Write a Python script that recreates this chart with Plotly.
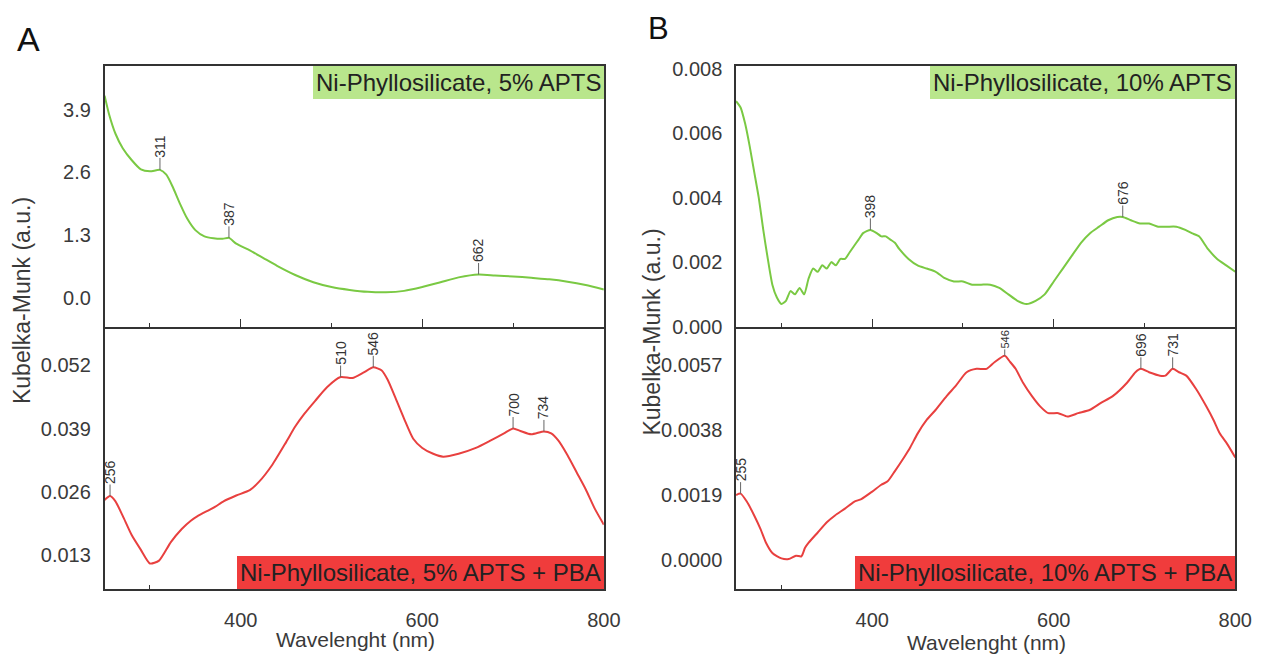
import plotly.graph_objects as go

# ---------------- data ----------------
# Panel A, top: Ni-Phyllosilicate, 5% APTS
a_top_wl = [250, 255, 262, 270, 280, 290, 300, 311, 318, 325, 333, 341, 350, 360, 370,
            380, 387, 395, 410, 425, 440, 460, 480, 500, 520, 540, 560, 580, 600, 620,
            640, 662, 680, 700, 720, 740, 760, 780, 800]
a_top_km = [4.19, 3.80, 3.40, 3.10, 2.85, 2.66, 2.62, 2.65, 2.55, 2.30, 1.95, 1.64, 1.40, 1.27, 1.23,
            1.22, 1.24, 1.12, 0.98, 0.82, 0.66, 0.47, 0.32, 0.22, 0.16, 0.12, 0.11, 0.14, 0.22, 0.32,
            0.42, 0.48, 0.46, 0.44, 0.41, 0.38, 0.33, 0.26, 0.17]

# Panel A, bottom: Ni-Phyllosilicate, 5% APTS + PBA
a_bot_wl = [250, 256, 262, 270, 280, 290, 300, 310, 323, 335, 345, 352, 365, 372, 381, 395,
            410, 420, 435, 450, 460, 470, 482, 495, 510, 523, 535, 546, 555, 562, 570, 580,
            590, 600, 612, 623, 640, 659, 675, 690, 700, 708, 720, 734, 742, 750, 760, 770,
            780, 790, 800]
a_bot_km = [0.0243, 0.0251, 0.0240, 0.0210, 0.0170, 0.0140, 0.0112, 0.0118, 0.0156, 0.0183, 0.0200, 0.0209, 0.0222, 0.0229, 0.0240, 0.0252,
            0.0263, 0.0280, 0.0316, 0.0362, 0.0394, 0.0420, 0.0447, 0.0475, 0.0496, 0.0494, 0.0505, 0.0516, 0.0510, 0.0490, 0.0455, 0.0410,
            0.0369, 0.0350, 0.0338, 0.0332, 0.0338, 0.0350, 0.0365, 0.0380, 0.0390, 0.0385, 0.0378, 0.0384, 0.0380, 0.0365, 0.0335, 0.0300,
            0.0265, 0.0225, 0.0192]

# Panel B, top: Ni-Phyllosilicate, 10% APTS
b_top_wl = [250, 255, 260, 265, 270, 275, 280, 285, 290, 295, 300, 305, 310, 315, 320, 325,
            330, 335, 340, 345, 350, 355, 360, 365, 370, 375, 380, 385, 390, 398, 405, 410,
            415, 420, 425, 430, 440, 450, 460, 470, 480, 490, 500, 510, 520, 530, 540, 550,
            560, 570, 580, 590, 600, 610, 620, 630, 640, 650, 660, 670, 676, 685, 695, 705,
            715, 725, 735, 745, 752, 760, 770, 780, 790, 800]
b_top_km = [0.0070, 0.0068, 0.0063, 0.0056, 0.0048, 0.0040, 0.0030, 0.0021, 0.0013, 0.0009, 0.0007, 0.0008, 0.0011, 0.0010, 0.0012, 0.0010,
            0.0015, 0.0018, 0.0017, 0.0019, 0.0018, 0.0020, 0.0019, 0.0021, 0.0021, 0.0023, 0.0025, 0.0027, 0.0029, 0.0030, 0.0029, 0.0028,
            0.0028, 0.0027, 0.0026, 0.0024, 0.0021, 0.0019, 0.0018, 0.0017, 0.0015, 0.0014, 0.0014, 0.0013, 0.0013, 0.0013, 0.0012, 0.0010,
            0.0008, 0.0007, 0.0008, 0.0010, 0.0014, 0.0018, 0.0022, 0.0026, 0.0029, 0.0031, 0.0033, 0.0034, 0.0034, 0.0033, 0.0032, 0.0032,
            0.0031, 0.0031, 0.0031, 0.0030, 0.0029, 0.0028, 0.0024, 0.0021, 0.0019, 0.0017]

# Panel B, bottom: Ni-Phyllosilicate, 10% APTS + PBA
b_bot_wl = [250, 255, 262, 270, 277, 283, 290, 300, 308, 316, 322, 326, 330, 340, 350, 359,
            370, 380, 388, 400, 410, 417, 425, 435, 442, 450, 460, 470, 482, 492, 504, 515,
            526, 535, 546, 552, 558, 566, 576, 585, 594, 605, 615, 627, 640, 652, 665, 681,
            690, 696, 705, 717, 723, 731, 738, 746, 757, 768, 776, 783, 791, 800]
b_bot_km = [0.00190, 0.00194, 0.00170, 0.00130, 0.00090, 0.00050, 0.00020, 0.00004, 0.00002, 0.00012, 0.00010, 0.00035, 0.00050, 0.00080, 0.00110, 0.00130,
            0.00150, 0.00170, 0.00178, 0.00200, 0.00220, 0.00230, 0.00260, 0.00300, 0.00330, 0.00370, 0.00410, 0.00440, 0.00480, 0.00510, 0.00550, 0.00560,
            0.00560, 0.00580, 0.00598, 0.00580, 0.00560, 0.00520, 0.00480, 0.00450, 0.00430, 0.00430, 0.00420, 0.00430, 0.00440, 0.00460, 0.00480, 0.00520,
            0.00550, 0.00560, 0.00550, 0.00540, 0.00540, 0.00560, 0.00550, 0.00540, 0.00500, 0.00450, 0.00410, 0.00370, 0.00340, 0.00300]

# peak labels (wavelength, value)
a_top_peaks_wl = [311, 387, 662]
a_top_peaks_km = [2.65, 1.24, 0.48]
a_bot_peaks_wl = [256, 510, 546, 700, 734]
a_bot_peaks_km = [0.0251, 0.0496, 0.0516, 0.0390, 0.0384]
b_top_peaks_wl = [398, 676]
b_top_peaks_km = [0.0030, 0.0034]
b_bot_peaks_wl = [255, 546, 696, 731]
b_bot_peaks_km = [0.00194, 0.00598, 0.00560, 0.00560]

# tick labels
x_ticks = [400, 600, 800]
x_minor = [300, 500, 700]
a_top_ticks = [0.0, 1.3, 2.6, 3.9]
a_bot_ticks = [0.013, 0.026, 0.039, 0.052]
b_top_ticks = [0.000, 0.002, 0.004, 0.006, 0.008]
b_bot_ticks = [0.0000, 0.0019, 0.0038, 0.0057]

labels = ["Ni-Phyllosilicate, 5% APTS", "Ni-Phyllosilicate, 5% APTS + PBA",
          "Ni-Phyllosilicate, 10% APTS", "Ni-Phyllosilicate, 10% APTS + PBA"]

# ---------------- styling ----------------
FONT = "Liberation Sans, Arial, sans-serif"
GREEN = "#7ac943"
RED = "#e8403f"
GREEN_BOX = "#b9e68c"
RED_BOX = "#f03c3c"
AXC = "#333333"
TXC = "#3a3a3a"
W, H = 1274, 659

fig = go.Figure()

panels = [
    (a_top_wl, a_top_km, GREEN, "x", "y"),
    (a_bot_wl, a_bot_km, RED, "x2", "y2"),
    (b_top_wl, b_top_km, GREEN, "x3", "y3"),
    (b_bot_wl, b_bot_km, RED, "x4", "y4"),
]
for wl, km, col, xa, ya in panels:
    fig.add_trace(go.Scatter(x=wl, y=km, mode="lines", xaxis=xa, yaxis=ya,
                             line=dict(color=col, width=2, shape="spline", smoothing=0.6),
                             showlegend=False, hoverinfo="skip"))

xA = [106 / W, 612 / W]
xB = [746 / W, 1252 / W]
yTop = [1 - 328 / H, 1 - 60 / H]
yBot = [1 - 598 / H, 1 - 328 / H]


def xaxis(domain, anchor, labels_on, mirror):
    return dict(domain=domain, anchor=anchor, range=[250, 800], tickvals=x_ticks,
                ticks="inside", ticklen=8, tickwidth=1.3, tickcolor=AXC,
                minor=dict(tickvals=x_minor, ticks="inside", ticklen=4, tickwidth=1.3, tickcolor=AXC),
                showticklabels=labels_on, showgrid=False, zeroline=False,
                showline=True, linecolor=AXC, linewidth=1.5, mirror=mirror,
                tickfont=dict(family=FONT, size=20, color=TXC), ticklabelstandoff=12)


def yaxis(domain, anchor, rng, tv, fmt):
    return dict(domain=domain, anchor=anchor, range=rng, tickvals=tv, tickformat=fmt,
                ticks="", showgrid=False, zeroline=False,
                showline=True, linecolor=AXC, linewidth=1.5, mirror=True,
                tickfont=dict(family=FONT, size=20, color=TXC), ticklabelstandoff=8)


fig.update_layout(
    width=W, height=H, margin=dict(l=0, r=0, t=0, b=0),
    paper_bgcolor="white", plot_bgcolor="white",
    xaxis=xaxis(xA, "y", False, True),
    xaxis2=xaxis(xA, "y2", True, False),
    xaxis3=xaxis(xB, "y3", False, True),
    xaxis4=xaxis(xB, "y4", True, False),
    yaxis=yaxis(yTop, "x", [-0.6, 4.8], a_top_ticks, ".1f"),
    yaxis2=yaxis(yBot, "x2", [0.006, 0.060], a_bot_ticks, ".3f"),
    yaxis3=yaxis(yTop, "x3", [0, 0.00808], b_top_ticks, ".3f"),
    yaxis4=yaxis(yBot, "x4", [-0.00085, 0.00684], b_bot_ticks, ".4f"),
)

ann = []
# peak labels
for pw, pk, xa, ya in [(a_top_peaks_wl, a_top_peaks_km, "x", "y"),
                       (a_bot_peaks_wl, a_bot_peaks_km, "x2", "y2"),
                       (b_top_peaks_wl, b_top_peaks_km, "x3", "y3"),
                       (b_bot_peaks_wl, b_bot_peaks_km, "x4", "y4")]:
    for w, k in zip(pw, pk):
        squeezed = (ya == "y4" and w == 546)
        ann.append(dict(x=w, y=k, xref=xa, yref=ya, text=str(w), textangle=-90,
                        showarrow=True, arrowhead=0, arrowwidth=1, arrowcolor="#666666",
                        ax=0, ay=-16 if squeezed else -24,
                        font=dict(family=FONT, size=11 if squeezed else 14, color="#333333"),
                        borderpad=0))

# sample label boxes
for txt, xa, ya, top, bg in [(labels[0], "x", "y", True, GREEN_BOX),
                             (labels[1], "x2", "y2", False, RED_BOX),
                             (labels[2], "x3", "y3", True, GREEN_BOX),
                             (labels[3], "x4", "y4", False, RED_BOX)]:
    ann.append(dict(x=1, y=1 if top else 0, xref=xa + " domain", yref=ya + " domain",
                    xanchor="right", yanchor="top" if top else "bottom",
                    text=txt, showarrow=False, bgcolor=bg, borderpad=3, borderwidth=0,
                    font=dict(family=FONT, size=24, color="#222222")))

# y titles
for xp, yp in [(23 / W, 1 - 301 / H), (661 / W, 1 - 334 / H)]:
    ann.append(dict(x=xp, y=yp, xref="paper", yref="paper", text="Kubelka-Munk (a.u.)",
                    textangle=-90, showarrow=False, xanchor="center", yanchor="middle",
                    font=dict(family=FONT, size=23, color=TXC)))
# x titles
for xp, yp in [(360 / W, 1 - 650 / H), (1000 / W, 1 - 653 / H)]:
    ann.append(dict(x=xp, y=yp, xref="paper", yref="paper", text="Wavelenght (nm)",
                    showarrow=False, xanchor="center", yanchor="middle",
                    font=dict(family=FONT, size=21, color=TXC)))
# panel letters
ann.append(dict(x=29 / W, y=1 - 32 / H, xref="paper", yref="paper", text="A", showarrow=False,
                xanchor="center", yanchor="middle", font=dict(family=FONT, size=34, color="#111111")))
ann.append(dict(x=667 / W, y=1 - 21 / H, xref="paper", yref="paper", text="B", showarrow=False,
                xanchor="center", yanchor="middle", font=dict(family=FONT, size=31, color="#111111")))

fig.update_layout(annotations=ann)
fig.write_html("out.html")
